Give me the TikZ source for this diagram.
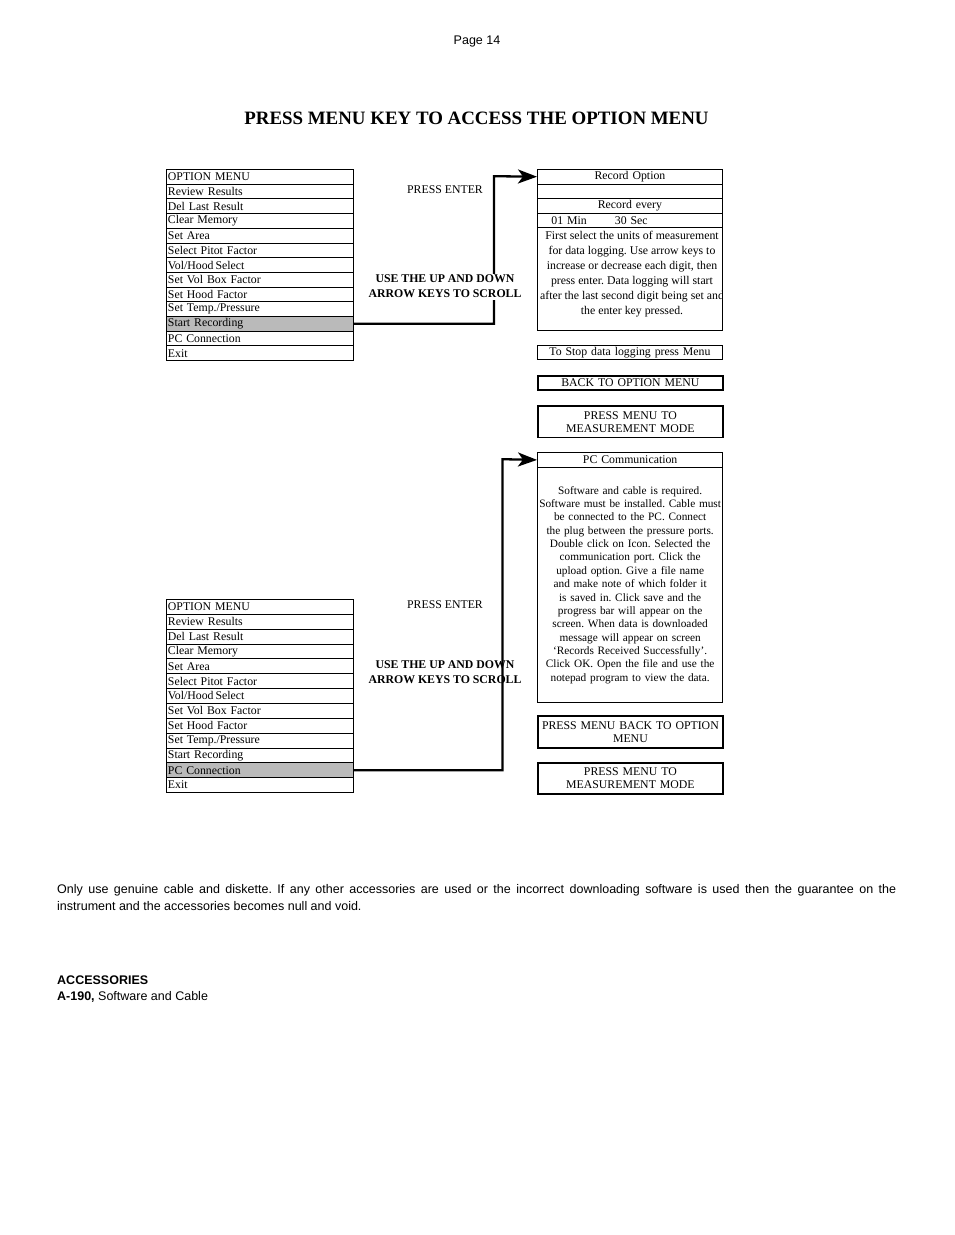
\documentclass[tikz,border=0pt]{standalone}
\usepackage{fontspec}
\setmainfont{Liberation Serif}
\newfontfamily\sansf{Liberation Sans}
\usetikzlibrary{arrows.meta}
\frenchspacing
\begin{document}
\frenchspacing
\begin{tikzpicture}[x=1pt,y=-1pt,
  mrow/.style={draw, line width=0.9pt, minimum width=187pt, minimum height=14.7pt,
    inner xsep=1.5pt, inner ysep=0pt, text width=184pt, align=left, anchor=north west,
    font=\fontsize{11.8}{12}\selectfont},
  mrowb/.style={mrow, minimum height=14.85pt},
  hl/.style={fill=black!27},
  rbox/.style={draw, line width=0.9pt, minimum width=185pt, minimum height=14.5pt,
    inner sep=0pt, text width=185pt, align=center, anchor=north west,
    font=\fontsize{11.8}{13}\selectfont},
  tbox/.style={rbox, line width=1.8pt},
  conn/.style={line width=2.3pt, line join=miter, -{Stealth[length=19pt,width=14pt,inset=5pt]}},
  lbl/.style={font=\fontsize{11.8}{15}\selectfont, align=center},
  blbl/.style={font=\bfseries\fontsize{11.8}{15}\selectfont, align=center}
]
\fill[white] (0,0) rectangle (954,1235);
\useasboundingbox (0,0) rectangle (954,1235);

% header and title
\node[font=\sansf\fontsize{12.5}{15}\selectfont] (page) at (477,41) {Page 14};
\node[font=\bfseries\fontsize{18.9}{20}\selectfont] (title) at (476.5,118) {PRESS MENU KEY TO ACCESS THE OPTION MENU};

% ---------- top menu ----------
\node[mrow] (a1) at (166,169) {OPTION MENU};
\node[mrow] (a2) at (166,183.7) {Review Results};
\node[mrow] (a3) at (166,198.4) {Del Last Result};
\node[mrow] (a4) at (166,213.1) {Clear Memory};
\node[mrow] (a5) at (166,227.8) {Set Area};
\node[mrow] (a6) at (166,242.5) {Select Pitot Factor};
\node[mrow] (a7) at (166,257.2) {Vol/Hood\,Select};
\node[mrow] (a8) at (166,271.9) {Set Vol Box Factor};
\node[mrow] (a9) at (166,286.6) {Set Hood Factor};
\node[mrow] (a10) at (166,301.3) {Set Temp./Pressure};
\node[mrow,hl] (a11) at (166,316) {Start Recording};
\node[mrow] (a12) at (166,330.7) {PC Connection};
\node[mrow] (a13) at (166,345.4) {Exit};

% ---------- top right ----------
\node[rbox] (r1) at (537,169) {Record Option};
\node[rbox] (r2) at (537,183.5) {};
\node[rbox] (r3) at (537,198) {Record every};
\node[rbox, align=left] (r4) at (537,212.5) {\hspace*{14pt}01 Min\hspace{28pt}30 Sec};
\node[rbox, minimum height=103pt] (r5) at (537,227) {};
\begin{scope}
\clip (r5.north west) rectangle (r5.south east);
\node[lbl, font=\fontsize{11.8}{15}\selectfont] (r5t) at (632,274.5) {First select the units of measurement\\
for data logging. Use arrow keys to\\
increase or decrease each digit, then\\
press enter. Data logging will start\\
after the last second digit being set and\\
the enter key pressed.};
\end{scope}

\node[rbox, minimum height=14pt] (s1) at (537,345) {To Stop data logging press Menu};
\node[tbox, minimum height=14pt] (s2) at (537,375) {BACK TO OPTION MENU};
\node[tbox, minimum height=31.5pt] (s3) at (537,405) {PRESS MENU TO\\MEASUREMENT MODE};

% top connector
\draw[conn] (a11.east) -| (494,176.2) -- (r1.west);
\node[lbl] (pe1) at (445,190) {PRESS ENTER};
\node[blbl, fill=white, inner sep=1.5pt] (sc1) at (445,286.5) {USE THE UP AND DOWN\\ARROW KEYS TO SCROLL};

% ---------- bottom right ----------
\node[rbox, line width=1.3pt, minimum height=15.5pt] (p1) at (537,451.5) {PC Communication};
\node[rbox, line width=1.3pt, minimum height=234.5pt, font=\fontsize{11.3}{13.36}\selectfont] (p2) at (537,467) {Software and cable is required.\\
Software must be installed. Cable must\\
be connected to the PC. Connect\\
the plug between the pressure ports.\\
Double click on Icon. Selected the\\
communication port. Click the\\
upload option. Give a file name\\
and make note of which folder it\\
is saved in. Click save and the\\
progress bar will appear on the\\
screen. When data is downloaded\\
message will appear on screen\\
‘Records Received Successfully’.\\
Click OK. Open the file and use the\\
notepad program to view the data.};

\node[tbox, minimum height=31.7pt] (q1) at (537,715) {PRESS MENU BACK TO OPTION\\MENU};
\node[tbox, minimum height=31.6pt] (q2) at (537,761.7) {PRESS MENU TO\\MEASUREMENT MODE};

% ---------- bottom menu ----------
\node[mrowb] (b1) at (166,599) {OPTION MENU};
\node[mrowb] (b2) at (166,613.85) {Review Results};
\node[mrowb] (b3) at (166,628.7) {Del Last Result};
\node[mrowb] (b4) at (166,643.55) {Clear Memory};
\node[mrowb] (b5) at (166,658.4) {Set Area};
\node[mrowb] (b6) at (166,673.25) {Select Pitot Factor};
\node[mrowb] (b7) at (166,688.1) {Vol/Hood\,Select};
\node[mrowb] (b8) at (166,702.95) {Set Vol Box Factor};
\node[mrowb] (b9) at (166,717.8) {Set Hood Factor};
\node[mrowb] (b10) at (166,732.65) {Set Temp./Pressure};
\node[mrowb] (b11) at (166,747.5) {Start Recording};
\node[mrowb,hl] (b12) at (166,762.35) {PC Connection};
\node[mrowb] (b13) at (166,777.2) {Exit};

% bottom connector
\draw[conn] (b12.east) -| (502.5,459.2) -- (p1.west);
\node[lbl] (pe2) at (445,605) {PRESS ENTER};
\node[blbl] (sc2) at (445,672) {USE THE UP AND DOWN\\ARROW KEYS TO SCROLL};

% ---------- footer text ----------
\node[font=\sansf\fontsize{12.5}{17}\selectfont, text width=839pt, align=justify,
  inner sep=0pt, anchor=base west] (para) at (57,893.5)
  {Only use genuine cable and diskette. If any other accessories are used or the incorrect downloading software is used then the guarantee on the\linebreak instrument and the accessories becomes null and void.};
\node[font=\sansf\bfseries\fontsize{12.5}{15}\selectfont, inner sep=0pt, anchor=base west] (acc) at (57,984.5) {ACCESSORIES};
\node[font=\sansf\fontsize{12.5}{15}\selectfont, inner sep=0pt, anchor=base west] (a190) at (57,1000.5) {\textbf{A-190,} Software and Cable};
\end{tikzpicture}
\end{document}
